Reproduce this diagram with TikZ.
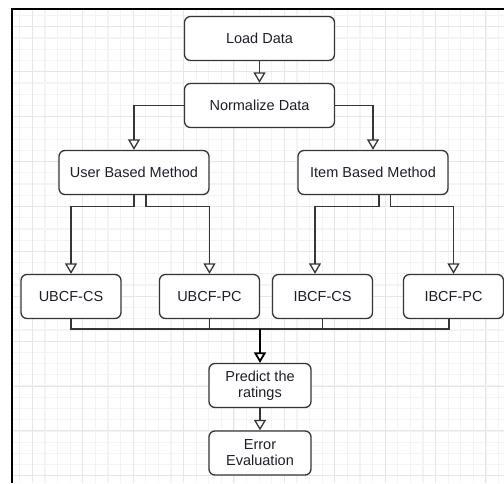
\documentclass[tikz,border=0pt]{standalone}
\usepackage{fontspec}
\setmainfont{Liberation Sans}
\usetikzlibrary{arrows.meta}
\definecolor{edge}{HTML}{363636}
\definecolor{ink}{HTML}{1E1E28}
\definecolor{gridmajor}{HTML}{E6E6E6}
\definecolor{gridminor}{HTML}{F3F3F3}
\begin{document}
\begin{tikzpicture}[x=1pt,y=-1pt,
  box/.style={draw=edge, line width=1.3pt, fill=white, rounded corners=6pt,
    inner sep=0pt, align=center, text=ink,
    font=\fontsize{14.5}{16}\selectfont},
  wide/.style={box, minimum width=150pt, minimum height=44pt},
  narrow/.style={box, minimum width=100pt, minimum height=44pt},
  link/.style={draw=edge, line width=1.3pt,
    -{Triangle[length=10.5pt,width=12pt,fill=white]}},
  wire/.style={draw=edge, line width=1.3pt},
  minorline/.style={draw=gridminor, line width=1.2pt},
  majorline/.style={draw=gridmajor, line width=1pt}]

% canvas
\useasboundingbox (0,0) rectangle (504,483);
\fill[white] (0,0) rectangle (504,483);

% background grid
\begin{scope}
  \clip (13,10) rectangle (504,483);
  \foreach \i in {0,...,40} {
    \draw[minorline] ({19.7+12.6*\i},0) -- ++(0,483);
  }
  \foreach \i in {0,...,43} {
    \draw[minorline] (0,{4.4+11.225*\i}) -- ++(504,0);
  }
  \foreach \i in {0,...,9} {
    \draw[majorline] ({32.3+50.4*\i},0) -- ++(0,483);
  }
  \foreach \i in {0,...,10} {
    \draw[majorline] (0,{26.8+44.9*\i}) -- ++(504,0);
  }
\end{scope}

% frame
\draw[black, line width=2pt] (504,9) -- (12,9) -- (12,483);

% steps
\node[wide]   (load) at (259.5,38.5)  {Load Data};
\node[wide]   (norm) at (259.5,105.5) {Normalize Data};
\node[wide]   (user) at (134,172.5)   {User Based Method};
\node[wide]   (item) at (373,172.5)   {Item Based Method};
\node[narrow] (ucs)  at (71,296.5)    {UBCF-CS};
\node[narrow] (upc)  at (209.5,296.5) {UBCF-PC};
\node[narrow] (ics)  at (322.5,296.5) {IBCF-CS};
\node[narrow] (ipc)  at (453.5,296.5) {IBCF-PC};
\node[box, minimum width=102pt, minimum height=44pt] (pred) at (260,385.5) {Predict the\\ratings};
\node[box, minimum width=102pt, minimum height=44pt] (err)  at (260,453)   {Error\\Evaluation};

% connectors
\draw[link] (load) -- (norm);
\draw[link] (norm.west) -| (user.north);
\draw[link] (norm.east) -| (item.north);

\draw[link] (user.south) -- ++(0,11) -| (ucs.north);
\draw[link] ([xshift=12pt]user.south) -- ++(0,11) -| (upc.north);
\draw[link] ([xshift=6pt]item.south) -- ++(0,11) -| ([xshift=-7.5pt]ics.north);
\draw[link] ([xshift=17.7pt]item.south) -- ++(0,11) -| (ipc.north);

% the four results merge into one line
\coordinate (join) at (260,329);
\draw[wire] (upc.south) -- (upc.south |- join);
\draw[wire] (ics.south) -- (ics.south |- join);
\draw[wire, line width=1.5pt, line join=miter] (ucs.south) -- (ucs.south |- join)
  -- ([xshift=-4.5pt]ipc.south |- join) -- ([xshift=-4.5pt]ipc.south);
\draw[link, line width=1.8pt, draw=black] (join) -- (pred);

\draw[link] (pred) -- (err);
\end{tikzpicture}
\end{document}
